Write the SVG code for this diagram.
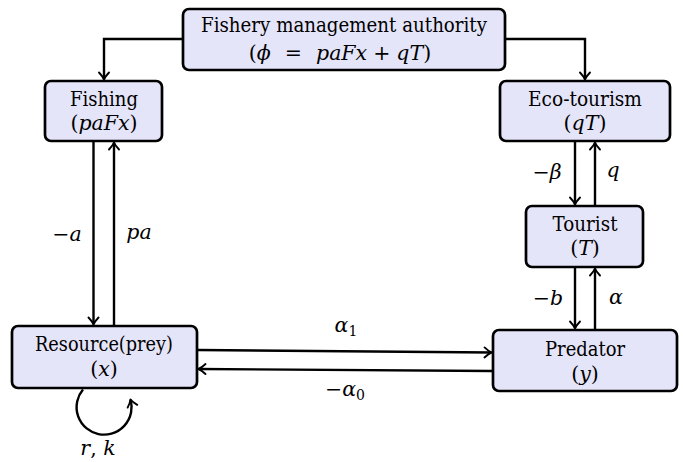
<svg xmlns="http://www.w3.org/2000/svg" width="683" height="462" viewBox="0 0 683 462">
  <style>
    .box { fill: #e5e5fa; stroke: #000; stroke-width: 2.7; }
    .t { font-family: 'DejaVu Serif', serif; font-size: 20.5px; fill: #000; text-anchor: middle; }
    .m { font-style: italic; }
    .sub { font-size: 14px; font-style: normal; }
    .edge { fill: none; stroke: #000; stroke-width: 2.4; marker-end: url(#tip); }
  </style>
  <defs>
    <marker id="tip" markerUnits="userSpaceOnUse" markerWidth="14" markerHeight="14" viewBox="-9 -7 11 14" refX="0" refY="0" orient="auto">
      <path d="M -7 -5 Q -3 -1.2 0 0 Q -3 1.2 -7 5" fill="none" stroke="#000" stroke-width="1.9" stroke-linecap="round" stroke-linejoin="round"/>
    </marker>
  </defs>

  <rect width="683" height="462" fill="#fff"/>

  <!-- connectors and their labels -->
  <g id="connectors">
    <path class="edge" d="M 183 39 H 104 V 79.5"/>
    <path class="edge" d="M 505 39 H 585 V 79.5"/>
    <path class="edge" d="M 93.5 142 V 324.5"/>
    <path class="edge" d="M 114 325 V 142.5"/>
    <path class="edge" d="M 575 142 V 204.5"/>
    <path class="edge" d="M 595 205 V 142.5"/>
    <path class="edge" d="M 575 268 V 328.5"/>
    <path class="edge" d="M 595 329 V 268.5"/>
    <path class="edge" d="M 198 350 L 491.5 352.5"/>
    <path class="edge" d="M 492 371 L 198.5 369"/>
    <path class="edge" d="M 83 389.5 A 27.5 27.5 0 1 0 130.5 399.5"/>

    <text class="t" x="67" y="241">−<tspan class="m">a</tspan></text>
    <text class="t m" x="139" y="239">pa</text>
    <text class="t" x="547" y="179">−<tspan class="m">β</tspan></text>
    <text class="t m" x="613" y="177">q</text>
    <text class="t" x="548" y="305">−<tspan class="m">b</tspan></text>
    <text class="t m" x="616" y="304">α</text>
    <text class="t" x="346" y="332"><tspan class="m">α</tspan><tspan class="sub" dy="4">1</tspan></text>
    <text class="t" x="345" y="396">−<tspan class="m">α</tspan><tspan class="sub" dy="4">0</tspan></text>
    <text class="t" x="98" y="455"><tspan class="m">r</tspan>, <tspan class="m">k</tspan></text>
  </g>

  <!-- nodes -->
  <g id="authority">
    <rect class="box" x="183" y="9" width="322" height="61" rx="6"/>
    <text class="t" x="344" y="32" textLength="286" lengthAdjust="spacingAndGlyphs">Fishery management authority</text>
    <text class="t" x="340" y="60">(<tspan class="m">ϕ</tspan><tspan dx="14">=</tspan><tspan class="m" dx="14">paFx</tspan><tspan dx="6">+</tspan><tspan class="m" dx="6">qT</tspan>)</text>
  </g>

  <g id="fishing">
    <rect class="box" x="45" y="81" width="117" height="60" rx="6"/>
    <text class="t" x="104" y="106" textLength="68" lengthAdjust="spacingAndGlyphs">Fishing</text>
    <text class="t" x="104" y="130">(<tspan class="m">paFx</tspan>)</text>
  </g>

  <g id="ecotourism">
    <rect class="box" x="500" y="81" width="170" height="60" rx="6"/>
    <text class="t" x="585" y="106" textLength="114" lengthAdjust="spacingAndGlyphs">Eco-tourism</text>
    <text class="t" x="585" y="130">(<tspan class="m">qT</tspan>)</text>
  </g>

  <g id="tourist">
    <rect class="box" x="526" y="206" width="117" height="61" rx="6"/>
    <text class="t" x="585" y="231" textLength="65" lengthAdjust="spacingAndGlyphs">Tourist</text>
    <text class="t" x="585" y="255">(<tspan class="m">T</tspan>)</text>
  </g>

  <g id="resource">
    <rect class="box" x="12" y="326" width="185" height="62" rx="6"/>
    <text class="t" x="104" y="351" textLength="138" lengthAdjust="spacingAndGlyphs">Resource(prey)</text>
    <text class="t" x="104" y="376">(<tspan class="m">x</tspan>)</text>
  </g>

  <g id="predator">
    <rect class="box" x="493" y="330" width="184" height="61" rx="6"/>
    <text class="t" x="585" y="356" textLength="80" lengthAdjust="spacingAndGlyphs">Predator</text>
    <text class="t" x="585" y="381">(<tspan class="m">y</tspan>)</text>
  </g>
</svg>
